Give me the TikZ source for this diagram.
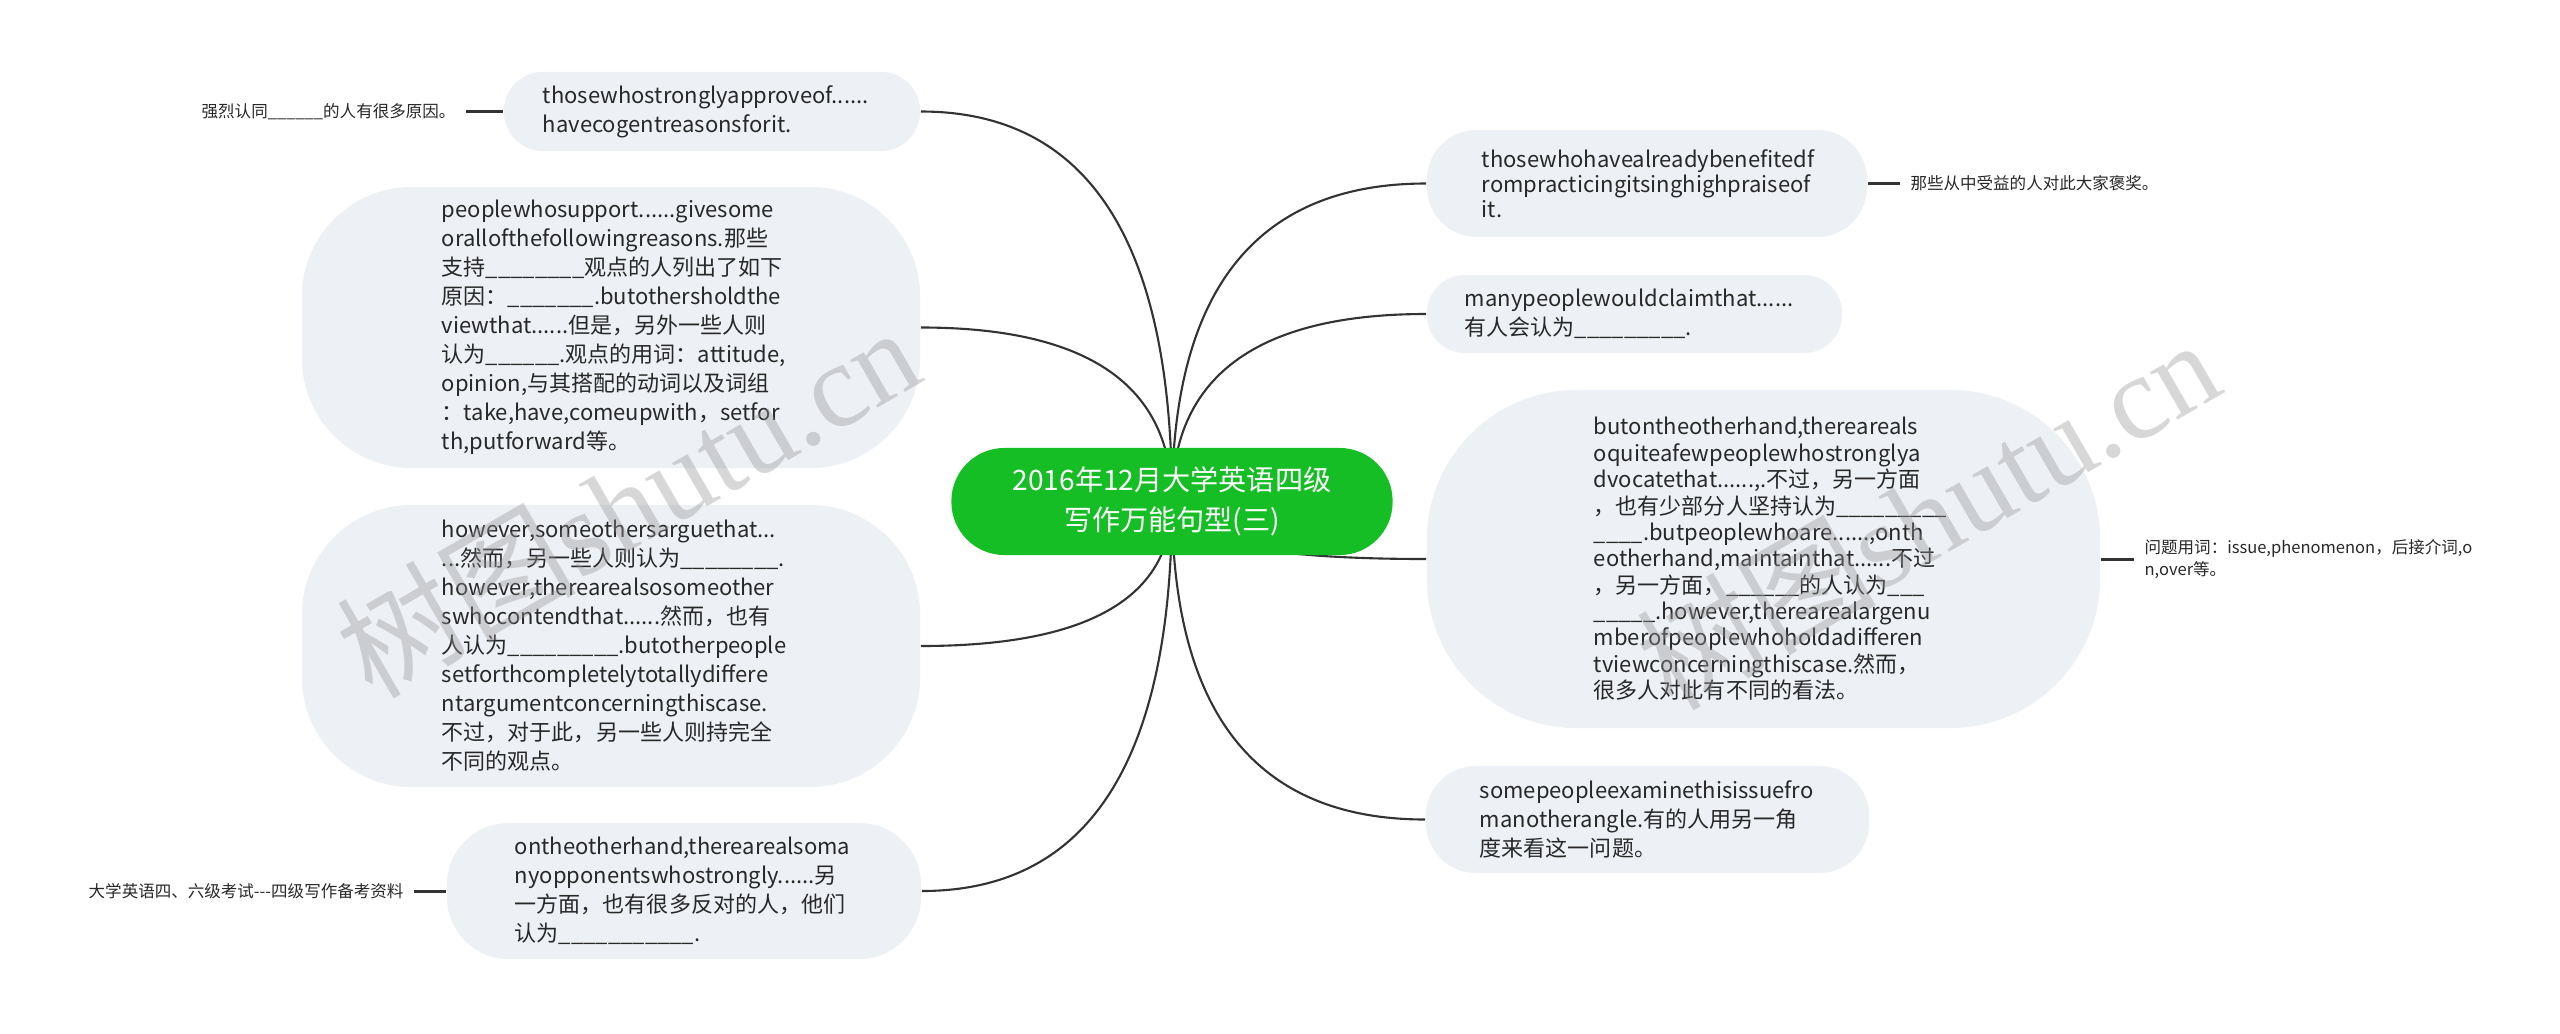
\documentclass[tikz,border=0pt]{standalone}
\usepackage{fontspec}
\usetikzlibrary{positioning,calc,backgrounds}
\newfontfamily\cjk{Noto Sans CJK SC}
\newfontfamily\wmlatin{Liberation Serif}
\definecolor{leafbg}{RGB}{237,240,244}
\definecolor{rootbg}{RGB}{22,190,37}
\definecolor{inkline}{RGB}{51,51,51}
\definecolor{txt}{RGB}{40,40,40}
\definecolor{wmgray}{RGB}{150,150,150}
\newcommand\leaffont{\fontsize{6.26pt}{8.25pt}\selectfont\cjk}
\newcommand\notefont{\fontsize{4.7pt}{6.26pt}\selectfont\cjk}
\newcommand\rootfont{\fontsize{8pt}{11.4pt}\selectfont\cjk}
\newcommand\blank[1]{\foreach \k in {1,...,#1}{\_}}
\tikzset{
  leafbox/.style={fill=leafbg, text=txt, font=\leaffont, align=left, inner sep=0pt, rounded corners=#1},
  rootbox/.style={fill=rootbg, text=white, font=\rootfont, align=center, inner sep=0pt,
    minimum width=4.41cm, minimum height=1.07cm, rounded corners=0.53cm},
  notebox/.style={text=txt, font=\notefont, inner sep=0.1cm},
  branch/.style={draw=inkline, line width=0.6pt},
  twig/.style={draw=inkline, line width=0.85pt},
  wmark/.style={text=wmgray, text opacity=0.38, font=\fontsize{34pt}{34pt}\selectfont\cjk, inner sep=0pt}
}
\begin{document}
\begin{tikzpicture}[x=0.01cm, y=-0.01cm]
  \useasboundingbox (0,0) rectangle (2560,1033);

  % centre
  \node[rootbox] (root) at (1172,501.5) {2016年12月大学英语四级\\写作万能句型(三)};

  % left side
  \node[leafbox=0.39cm, minimum width=4.16cm, minimum height=0.79cm, text width=3.38cm] (l1) at (712,111.5)
    {thosewhostronglyapproveof......\\havecogentreasonsforit.};
  \node[leafbox=1.1cm, minimum width=6.18cm, minimum height=2.81cm, text width=3.38cm] (l2) at (611,327.5)
    {peoplewhosupport......givesome\\
     orallofthefollowingreasons.那些\\
     支持\blank{8}观点的人列出了如下\\
     原因：\blank{7}.butothersholdthe\\
     viewthat......但是，另外一些人则\\
     认为\blank{6}.观点的用词：attitude,\\
     opinion,与其搭配的动词以及词组\\
     ：take,have,comeupwith，setfor\\
     th,putforward等。};
  \node[leafbox=1.1cm, minimum width=6.18cm, minimum height=2.82cm, text width=3.38cm] (l3) at (611,646)
    {however,someothersarguethat...\\
     ...然而，另一些人则认为\blank{8}.\\
     however,therearealsosomeother\\
     swhocontendthat......然而，也有\\
     人认为\blank{9}.butotherpeople\\
     setforthcompletelytotallydiffere\\
     ntargumentconcerningthiscase.\\
     不过，对于此，另一些人则持完全\\
     不同的观点。};
  \node[leafbox=0.62cm, minimum width=4.74cm, minimum height=1.36cm, text width=3.38cm] (l4) at (684,891)
    {ontheotherhand,therearealsoma\\
     nyopponentswhostrongly......另\\
     一方面，也有很多反对的人，他们\\
     认为\blank{11}.};

  % right side
  \node[leafbox=0.5cm, minimum width=4.40cm, minimum height=1.07cm, text width=3.30cm,
    font=\fontsize{6.26pt}{7.1pt}\selectfont\cjk] (r1) at (1647,183.5)
    {thosewhohavealreadybenefitedf\\rompracticingitsinghighpraiseof\\it.};
  \node[leafbox=0.38cm, minimum width=4.15cm, minimum height=0.78cm, text width=3.39cm] (r2) at (1634.5,314)
    {manypeoplewouldclaimthat......\\有人会认为\blank{9}.};
  \node[leafbox=1.5cm, minimum width=6.73cm, minimum height=3.38cm, text width=3.39cm,
    font=\fontsize{6.26pt}{7.5pt}\selectfont\cjk] (r3) at (1763.5,559)
    {butontheotherhand,thereareals\\
     oquiteafewpeoplewhostronglya\\
     dvocatethat......,.不过，另一方面\\
     ，也有少部分人坚持认为\blank{9}\\
     \blank{4}.butpeoplewhoare......,onth\\
     eotherhand,maintainthat......不过\\
     ，另一方面，\blank{6}的人认为\blank{3}\\
     \blank{5}.however,therearealargenu\\
     mberofpeoplewhoholdadifferen\\
     tviewconcerningthiscase.然而，\\
     很多人对此有不同的看法。};
  \node[leafbox=0.5cm, minimum width=4.43cm, minimum height=1.07cm, text width=3.35cm] (r4) at (1647.5,819.5)
    {somepeopleexaminethisissuefro\\manotherangle.有的人用另一角\\度来看这一问题。};

  % notes
  \node[notebox, left=0.37cm of l1] (n1) {强烈认同\blank{6}的人有很多原因。};
  \node[notebox, left=0.32cm of l4] (n4) {大学英语四、六级考试---四级写作备考资料};
  \node[notebox, right=0.32cm of r1] (n5) {那些从中受益的人对此大家褒奖。};
  \node[notebox, right=0.33cm of r3, align=left] (n7) {问题用词：issue,phenomenon，后接介词,o\\n,over等。};

  \draw[twig] (n1.east) -- (l1.west);
  \draw[twig] (n4.east) -- (l4.west);
  \draw[twig] (r1.east) -- (n5.west);
  \draw[twig] (r3.east) -- (n7.west);

  \begin{scope}[on background layer]
    \fill[white] (0,0) rectangle (2560,1033);
    \foreach \nd/\side in {l1/east,l2/east,l3/east,l4/east,r1/west,r2/west,r3/west,r4/west}{
      \path (root.center |- \nd.\side) coordinate (k);
      \draw[branch] (root.center) .. controls ($(root.center)!2/3!(k)$) and ($(\nd.\side)!2/3!(k)$) .. (\nd.\side);
    }
  \end{scope}

  % watermark
  \node[wmark, rotate=30, anchor=base] (wm1) at (650,540) {树图{\wmlatin shutu.cn}};
  \node[wmark, rotate=30, anchor=base] (wm2) at (1950,552) {树图{\wmlatin shutu.cn}};
\end{tikzpicture}
\end{document}
